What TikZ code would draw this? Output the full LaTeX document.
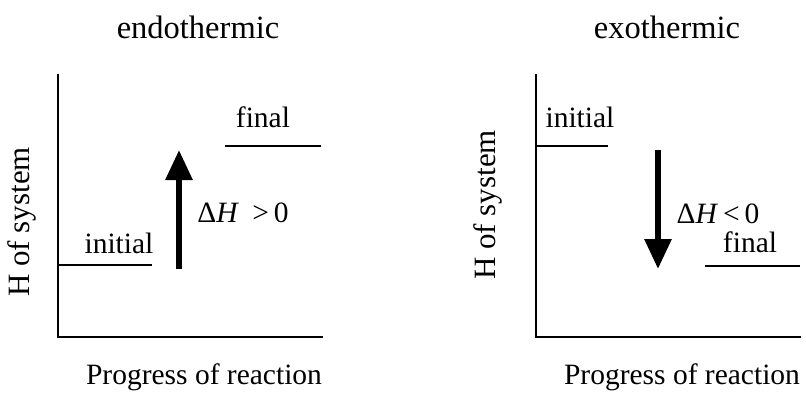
\documentclass[tikz,border=0pt]{standalone}
\usepackage{fontspec}
\setmainfont{Liberation Serif}
\usetikzlibrary{arrows.meta}
\begin{document}
\begin{tikzpicture}[x=1pt,y=-1pt,
  lbl/.style={inner sep=0pt,font=\fontsize{29.5}{34}\selectfont},
  axlbl/.style={inner sep=0pt,font=\fontsize{31}{36}\selectfont},
  ttl/.style={inner sep=0pt,font=\fontsize{32.5}{36}\selectfont},
  axisline/.style={line width=2pt,line cap=rect},
  level/.style={line width=2.6pt},
  bigarrow/.style={line width=6pt,-{Triangle[width=26pt,length=30pt]}}]
\useasboundingbox (0,0) rectangle (806,394);
% ---------- endothermic ----------
\node[ttl] (t1) at (198,27) {endothermic};
\coordinate (top1) at (58,75);
\coordinate (o1) at (58,337);
\coordinate (xe1) at (322,337);
\draw[axisline] (top1) -- (o1) -- (xe1);
\node[axlbl,rotate=90] (h1) at (22,222) {H of system};
\node[lbl] (p1) at (204,377) {Progress of reaction};
\coordinate (i1a) at (58,265);
\coordinate (i1b) at (152,265);
\draw[level] (i1a) -- (i1b);
\node[lbl] (il1) at (119,243) {initial};
\coordinate (f1a) at (225,146);
\coordinate (f1b) at (321,146);
\draw[level] (f1a) -- (f1b);
\node[lbl] (fl1) at (263,117) {final};
\coordinate (a1s) at (179,269);
\coordinate (a1e) at (179,150);
\draw[bigarrow] (a1s) -- (a1e);
\node[lbl] (d1) at (243,213) {Δ\textit{H}\hspace{0.45em}>\,0};
% ---------- exothermic ----------
\node[ttl] (t2) at (667,27) {exothermic};
\coordinate (top2) at (536,75);
\coordinate (o2) at (536,337);
\coordinate (xe2) at (800,337);
\draw[axisline] (top2) -- (o2) -- (xe2);
\node[axlbl,rotate=90] (h2) at (488,205) {H of system};
\node[lbl] (p2) at (682,377) {Progress of reaction};
\coordinate (i2a) at (536,146);
\coordinate (i2b) at (608,146);
\draw[level] (i2a) -- (i2b);
\node[lbl] (il2) at (580,117) {initial};
\coordinate (f2a) at (705,266);
\coordinate (f2b) at (800,266);
\draw[level] (f2a) -- (f2b);
\node[lbl] (fl2) at (750,242) {final};
\coordinate (a2s) at (658,150);
\coordinate (a2e) at (658,269);
\draw[bigarrow] (a2s) -- (a2e);
\node[lbl] (d2) at (718,214) {Δ\textit{H}\,<\,0};
\end{tikzpicture}
\end{document}
